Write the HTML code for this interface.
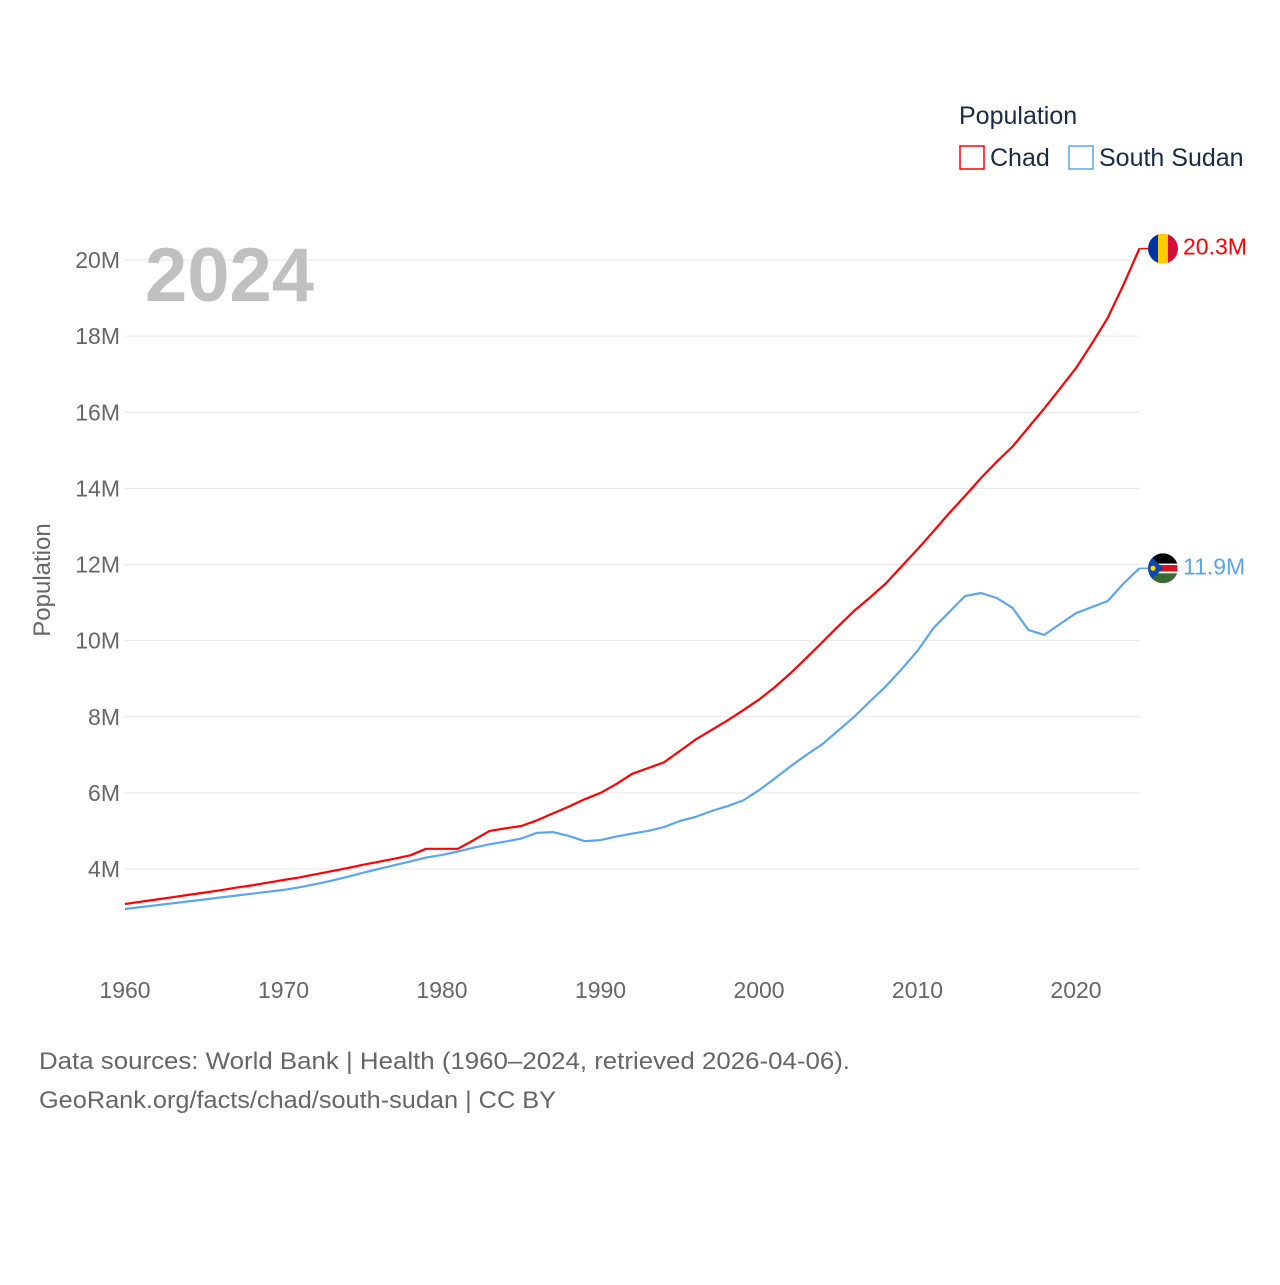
<!DOCTYPE html>
<html><head><meta charset="utf-8"><style>
body{margin:0;background:#fff;font-family:"Liberation Sans",sans-serif;}
svg text{font-family:"Liberation Sans",sans-serif;}
</style></head><body>
<svg width="1280" height="1280" viewBox="0 0 1280 1280">
<g>
<text x="959" y="124" font-size="25" fill="#1a2a44">Population</text>
<rect x="960" y="146" width="24" height="23" fill="none" stroke="#ff0000" stroke-width="1.5"/>
<text x="990" y="166" font-size="25" fill="#1a2a44">Chad</text>
<rect x="1069" y="146" width="24" height="23" fill="none" stroke="#5aa6ee" stroke-width="1.5"/>
<text x="1099" y="166" font-size="25" fill="#1a2a44">South Sudan</text>
</g>
<g id="grid"></g>
<g id="yticks"></g>
<g id="xticks"></g>
<text x="145" y="301" font-size="76" font-weight="bold" fill="#c0c0c0">2024</text>
<text transform="translate(50,580) rotate(-90)" text-anchor="middle" font-size="24" fill="#666">Population</text>
<g id="series"></g>
<text x="39" y="1069" font-size="24" fill="#666" textLength="811" lengthAdjust="spacingAndGlyphs">Data sources: World Bank | Health (1960–2024, retrieved 2026-04-06).</text>
<text x="39" y="1108" font-size="24" fill="#666" textLength="517" lengthAdjust="spacingAndGlyphs">GeoRank.org/facts/chad/south-sudan | CC BY</text>
</svg>
<script>
const years=[];for(let y=1960;y<=2024;y++)years.push(y);
const chad=[3.08,3.14,3.2,3.26,3.32,3.38,3.44,3.51,3.57,3.64,3.71,3.78,3.86,3.94,4.02,4.11,4.19,4.27,4.36,4.53,4.53,4.53,4.76,5.0,5.07,5.13,5.28,5.46,5.64,5.83,6.0,6.23,6.5,6.65,6.8,7.1,7.4,7.65,7.9,8.17,8.45,8.78,9.15,9.55,9.96,10.38,10.78,11.13,11.5,11.95,12.4,12.87,13.35,13.8,14.27,14.7,15.1,15.6,16.1,16.63,17.16,17.8,18.48,19.35,20.3];
const ssudan=[2.95,3.0,3.05,3.1,3.15,3.2,3.25,3.3,3.35,3.4,3.45,3.52,3.6,3.69,3.79,3.9,4.0,4.1,4.2,4.3,4.37,4.46,4.56,4.65,4.72,4.8,4.95,4.97,4.87,4.73,4.76,4.85,4.93,5.0,5.1,5.26,5.37,5.52,5.65,5.8,6.07,6.38,6.7,7.0,7.28,7.64,8.0,8.4,8.8,9.25,9.73,10.33,10.75,11.17,11.25,11.12,10.86,10.28,10.15,10.44,10.72,10.88,11.04,11.5,11.9];
const yTicks=[4,6,8,10,12,14,16,18,20];
const xTicks=[1960,1970,1980,1990,2000,2010,2020];
const NS="http://www.w3.org/2000/svg";
const X=v=>125+(v-1960)*15.85;
const Y=v=>869-(v-4)*38.0625;
function mk(tag,at,parent){const e=document.createElementNS(NS,tag);for(const k in at)e.setAttribute(k,at[k]);parent.appendChild(e);return e;}
const grid=document.getElementById('grid'),yt=document.getElementById('yticks'),xt=document.getElementById('xticks'),ser=document.getElementById('series');
yTicks.forEach(v=>{
 const l=mk('line',{x1:125,x2:1139,y1:Y(v),y2:Y(v),stroke:'#e6e6e6','stroke-width':1},grid);
 
 
 const t=mk('text',{x:120,y:Y(v)+8,'text-anchor':'end','font-size':23,fill:'#666'},yt);
 t.textContent=v+'M';
 
 
});
xTicks.forEach(v=>{
 const t=mk('text',{x:X(v),y:998,'text-anchor':'middle','font-size':23,fill:'#666'},xt);
 t.textContent=v;
 
 
});
function series(vals,color,name){
 const d=vals.map((v,i)=>(i?'L':'M')+X(years[i]).toFixed(1)+','+Y(v).toFixed(1)).join('');
 const p=mk('path',{d:d,fill:'none',stroke:color,'stroke-width':2.2,'stroke-linejoin':'round'},ser);
 
 
 const last=vals[vals.length-1],ly=Y(last),lx=X(years[years.length-1]);
 const c=mk('line',{x1:lx,x2:1150,y1:ly,y2:ly,stroke:color,'stroke-width':1.5},ser);
 
 
 const t=mk('text',{x:1183,y:ly+6,'font-size':23,fill:color},ser);
 t.textContent=last.toFixed(1)+'M';
 
 
 return ly;
}
const cy=series(chad,'#ff0000','chad');
const sy=series(ssudan,'#5aa6ee','south-sudan');
const f1=mk('g',{},ser);


mk('clipPath',{id:'c1'},f1).appendChild(document.createElementNS(NS,'circle')).setAttribute('r',15);
const g1=mk('g',{transform:`translate(1163,${cy})`,'clip-path':'url(#c1)'},f1);
mk('rect',{x:-15,y:-15,width:10,height:30,fill:'#0033a0'},g1);
mk('rect',{x:-5,y:-15,width:10,height:30,fill:'#fecb00'},g1);
mk('rect',{x:5,y:-15,width:10,height:30,fill:'#d21034'},g1);
const f2=mk('g',{},ser);


mk('clipPath',{id:'c2'},f2).appendChild(document.createElementNS(NS,'circle')).setAttribute('r',15);
const g2=mk('g',{transform:`translate(1163,${sy})`,'clip-path':'url(#c2)'},f2);
mk('rect',{x:-15,y:-15,width:30,height:11,fill:'#000'},g2);
mk('rect',{x:-15,y:-4,width:30,height:8,fill:'#da121a',stroke:'#fff','stroke-width':1.5},g2);
mk('rect',{x:-15,y:5,width:30,height:10,fill:'#3a6b35'},g2);
mk('polygon',{points:'-15,-15 0,0 -15,15',fill:'#0f47af'},g2);
mk('circle',{cx:-10,cy:0,r:2.5,fill:'#fcdd09'},g2);
</script>
</body></html>
